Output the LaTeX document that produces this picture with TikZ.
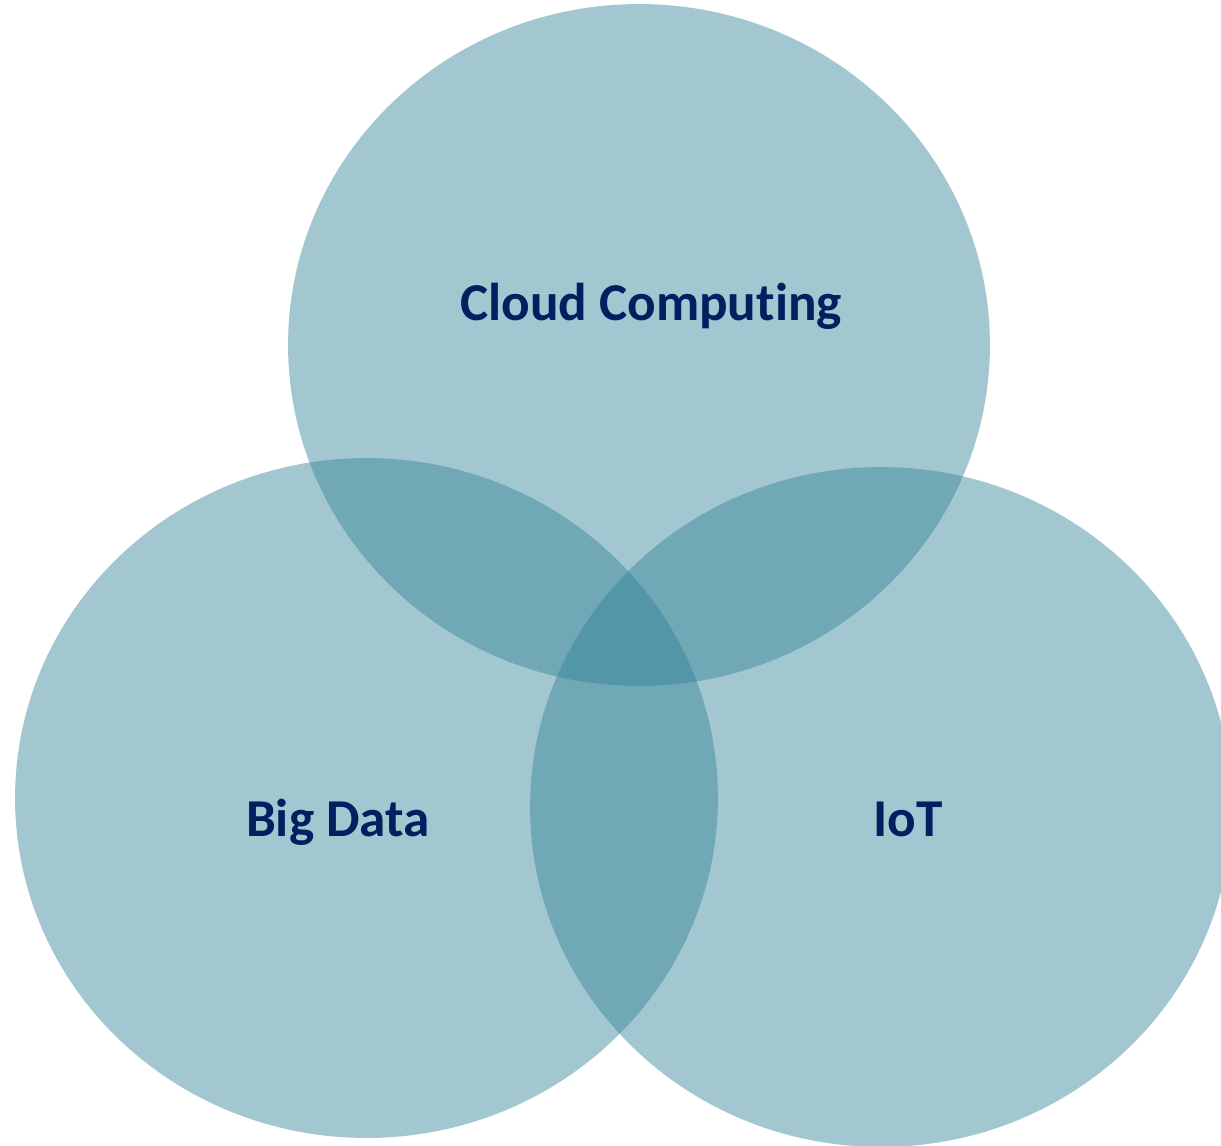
\documentclass[tikz,border=0pt]{standalone}
\usepackage{fontspec}
\setmainfont{Carlito}[Ligatures={NoCommon}]
\definecolor{venn}{RGB}{46,128,148}
\definecolor{labelblue}{RGB}{0,32,96}
\begin{document}
\begin{tikzpicture}[x=0.02cm,y=-0.02cm,
  set/.style={fill=venn,fill opacity=0.44,draw=none},
  lbl/.style={text=labelblue,font=\fontsize{30.3}{35}\selectfont\bfseries,anchor=base,inner sep=0pt}]
\useasboundingbox (0,0) rectangle (1221,1146);
\clip (0,0) rectangle (1221,1146);
\fill[set] (639,345) ellipse [x radius=7.02cm, y radius=6.82cm];
\fill[set] (366.5,798) ellipse [x radius=7.03cm, y radius=6.8cm];
\fill[set] (881,807) ellipse [x radius=7.02cm, y radius=6.8cm];
\node[lbl] (cloud) at (651,320) {Cloud Computing};
\node[lbl] (big) at (338,836) {Big Data};
\node[lbl] (iot) at (908,836) {IoT};
\end{tikzpicture}
\end{document}
